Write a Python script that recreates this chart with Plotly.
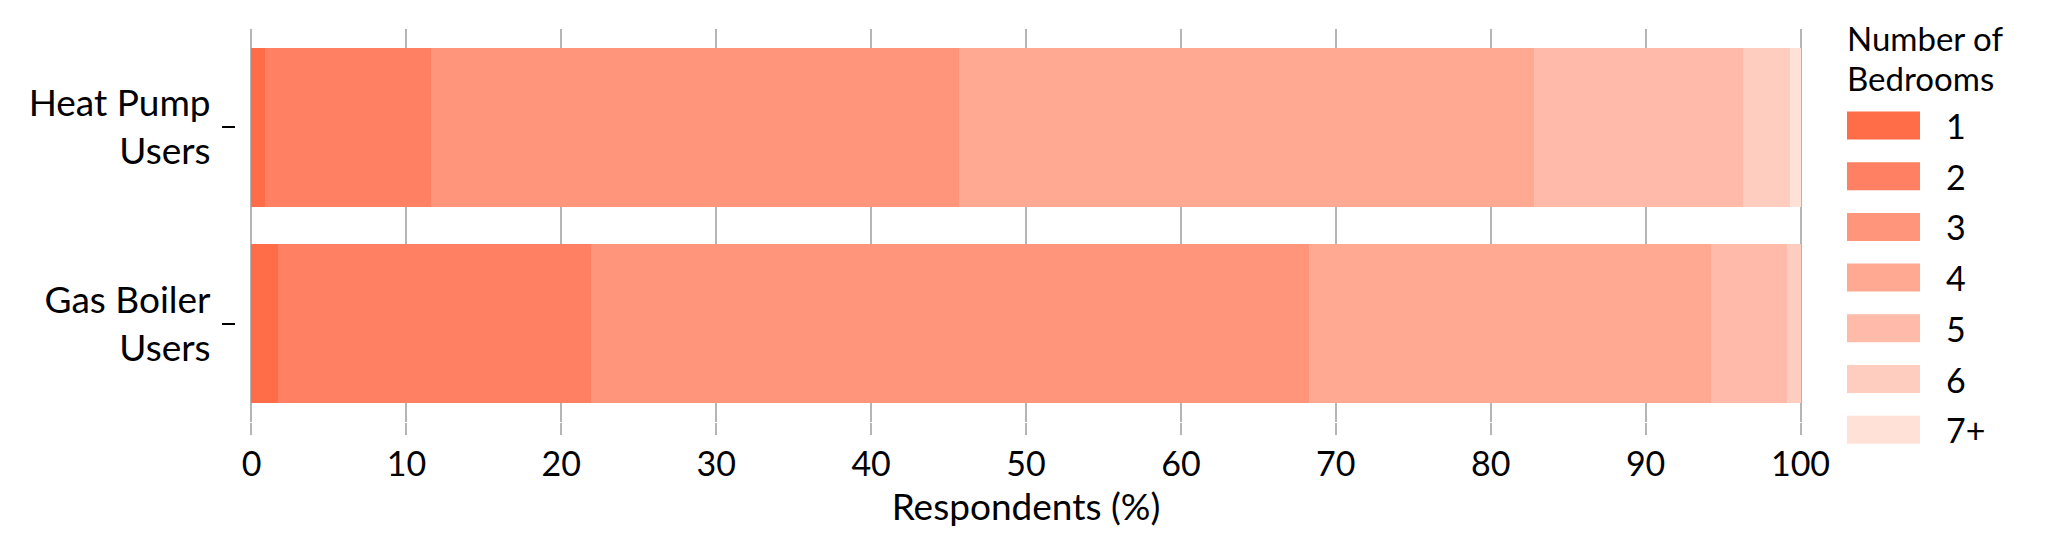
import plotly.graph_objects as go

# survey groups (top to bottom)
groups = ["Heat Pump<br>Users", "Gas Boiler<br>Users"]
bedrooms = ["1", "2", "3", "4", "5", "6", "7+"]

# share of respondents (%) per bedroom count
heat_pump = [0.9, 10.7, 34.1, 37.1, 13.5, 3.0, 0.7]
gas_boiler = [1.7, 20.2, 46.4, 25.9, 4.9, 0.9, 0.0]

colors = ["#FF6C48", "#FF8062", "#FF957B", "#FFA892", "#FFBAA9", "#FFCDBF", "#FFE1D8"]

FONT = "Lato"
FS = 36
OFF = 8  # page body margin
W, H = 2048 - OFF, 553 - OFF
ML, MR, MT, MB = 228, 232, 21, 131

fig = go.Figure()
for i, b in enumerate(bedrooms):
    fig.add_trace(go.Bar(
        y=groups,
        x=[heat_pump[i], gas_boiler[i]],
        name=b,
        orientation="h",
        marker=dict(color=colors[i], line=dict(width=0)),
        showlegend=False,
    ))

# hand-made legend with wide swatches (positions given in screen pixels)
plot_w = W - ML - MR
plot_h = H - MT - MB
def px_x(p):
    return (p - OFF - ML) / plot_w
def px_y(p):
    return (H - MB - (p - OFF)) / plot_h

shapes = []
annotations = []
for j, line in enumerate(["Number of", "Bedrooms"]):
    annotations.append(dict(
        text=line, xref="paper", yref="paper",
        x=px_x(1845), y=px_y(38 + j * 40), xanchor="left", yanchor="middle",
        showarrow=False, font=dict(family=FONT, size=33, color="black"),
    ))
for i, b in enumerate(bedrooms):
    cy = 125.5 + i * 50.7
    shapes.append(dict(
        type="rect", xref="paper", yref="paper",
        x0=px_x(1847), x1=px_x(1920), y0=px_y(cy - 14), y1=px_y(cy + 14),
        fillcolor=colors[i], line=dict(width=0),
    ))
    annotations.append(dict(
        text=b, xref="paper", yref="paper", x=px_x(1944), y=px_y(cy),
        xanchor="left", yanchor="middle", showarrow=False,
        font=dict(family=FONT, size=34, color="black"),
    ))

fig.update_layout(
    barmode="stack",
    bargap=0.19,
    width=W, height=H,
    margin=dict(l=ML, r=MR, t=MT, b=MB),
    paper_bgcolor="white",
    plot_bgcolor="white",
    font=dict(family=FONT, size=FS, color="black"),
    shapes=shapes,
    annotations=annotations,
    xaxis=dict(
        range=[-1, 101],
        tickvals=list(range(0, 101, 10)),
        tickfont=dict(size=34),
        showgrid=True, gridcolor="#B5B5B5", gridwidth=2,
        ticks="outside", ticklen=12, tickwidth=2, tickcolor="#B5B5B5",
        zeroline=False, showline=False,
        title=dict(text="Respondents (%)", standoff=4, font=dict(size=37)),
    ),
    yaxis=dict(
        autorange="reversed",
        tickfont=dict(size=37),
        ticks="outside", ticklen=13, tickwidth=2, tickcolor="black",
        ticklabelstandoff=4,
        showgrid=False, zeroline=False, showline=False,
    ),
)

fig.write_html("out.html")
